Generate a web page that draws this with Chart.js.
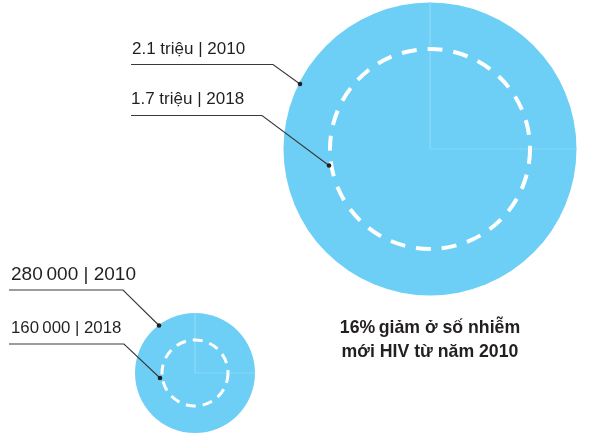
<!DOCTYPE html>
<html>
<head>
<meta charset="utf-8">
<script src="https://cdn.jsdelivr.net/npm/chart.js@4.4.1/dist/chart.umd.min.js"></script>
<style>
  body { margin: 0; background: #fff; }
  canvas { display: block; }
</style>
</head>
<body>
<canvas id="myChart" width="601" height="436"></canvas>
<script>
// donnees du graphique
const years = ["2010", "2018"];
const adultValues = [2100000, 1700000]; // grand cercle
const childValues = [280000, 160000]; // petit cercle
const noteLines = ["16%\u2009giảm ở số nhiễm", "mới HIV từ năm 2010"];

// mise en page (positions en pixels, axes 0..601 / 0..436)
const bigCircle = { x: 430, y: 149, outer: 146.5, inner: 100 };
const smallCircle = { x: 195, y: 373, outer: 60, inner: 33 };
// [texte x, texte y, debut ligne, y ligne, coude x, point x, point y, taille police]
const leaders = [
  [132, 54, 131, 64.5, 273, 300, 84, 17],
  [131, 104, 131, 115.5, 262, 329, 165.5, 17],
  [11, 280, 9, 290, 123, 159, 325.5, 19],
  [11, 332.5, 9, 344, 124, 160, 378, 16.8],
];

const blue = "#6dcff6";
const faint = "#85d7f7";
const ink = "#231f20";

function formatMillion(v) {
  return (v / 1000000).toFixed(1) + " triệu";
}
function formatThousand(v) {
  return String(v).replace(/\B(?=(\d{3})+(?!\d))/g, "\u2009");
}

const labelTexts = [
  formatMillion(adultValues[0]) + " | " + years[0],
  formatMillion(adultValues[1]) + " | " + years[1],
  formatThousand(childValues[0]) + " | " + years[0],
  formatThousand(childValues[1]) + " | " + years[1],
];

const datasets = [];

// cercles pleins
[bigCircle, smallCircle].forEach(function (c) {
  datasets.push({
    type: "bubble",
    data: [{ x: c.x, y: c.y, r: c.outer }],
    backgroundColor: blue,
    borderWidth: 0,
    clip: false,
    order: 4,
  });
  // lignes claires (quart de cercle)
  datasets.push({
    type: "line",
    data: [
      { x: c.x, y: c.y - c.outer },
      { x: c.x, y: c.y },
      { x: c.x + c.outer, y: c.y },
    ],
    borderColor: faint,
    borderWidth: 1,
    pointRadius: 0,
    clip: false,
    order: 3,
  });
});

// cercles en pointilles
datasets.push({
  type: "bubble",
  data: [{ x: bigCircle.x, y: bigCircle.y, r: bigCircle.inner }],
  backgroundColor: "rgba(0,0,0,0)",
  borderColor: "#ffffff",
  borderWidth: 4,
  dash: [15, 11],
  clip: false,
  order: 2,
});
datasets.push({
  type: "bubble",
  data: [{ x: smallCircle.x, y: smallCircle.y, r: smallCircle.inner }],
  backgroundColor: "rgba(0,0,0,0)",
  borderColor: "#ffffff",
  borderWidth: 3,
  dash: [10, 7],
  clip: false,
  order: 2,
});

// lignes de rappel
leaders.forEach(function (l) {
  datasets.push({
    type: "line",
    data: [
      { x: l[2], y: l[3] },
      { x: l[4], y: l[3] },
      { x: l[5], y: l[6] },
    ],
    borderColor: "#3a3a3a",
    borderWidth: 1.1,
    pointRadius: [0, 0, 2.3],
    pointBackgroundColor: ink,
    pointBorderWidth: 0,
    clip: false,
    order: 1,
  });
});

// plugin pour les pointilles des bulles
const dashPlugin = {
  id: "dashPlugin",
  beforeDatasetDraw(chart, args) {
    const ds = chart.data.datasets[args.index];
    if (ds.dash) chart.ctx.setLineDash(ds.dash);
  },
  afterDatasetDraw(chart) {
    chart.ctx.setLineDash([]);
  },
};

// plugin pour les textes
const textPlugin = {
  id: "textPlugin",
  afterDraw(chart) {
    const ctx = chart.ctx;
    const xs = chart.scales.x;
    const ys = chart.scales.y;
    ctx.save();
    ctx.fillStyle = ink;
    ctx.textBaseline = "alphabetic";
    ctx.textAlign = "left";
    leaders.forEach(function (l, i) {
      ctx.font = l[7] + 'px "Liberation Sans", Arial, sans-serif';
      ctx.fillText(labelTexts[i], xs.getPixelForValue(l[0]), ys.getPixelForValue(l[1]));
    });
    ctx.textAlign = "center";
    ctx.font = 'bold 17.7px "Liberation Sans", Arial, sans-serif';
    noteLines.forEach(function (t, i) {
      ctx.fillText(t, xs.getPixelForValue(430), ys.getPixelForValue(333 + i * 23.5));
    });
    ctx.restore();
  },
};

const config = {
  type: "bubble",
  data: { datasets: datasets },
  options: {
    responsive: false,
    animation: false,
    events: [],
    layout: { padding: 0, autoPadding: false },
    plugins: {
      legend: false,
      tooltip: { enabled: false },
    },
    scales: {
      x: { type: "linear", min: 0, max: 601, display: false },
      y: { type: "linear", min: 0, max: 436, reverse: true, display: false },
    },
  },
  plugins: [dashPlugin, textPlugin],
};

let context = document.getElementById("myChart").getContext("2d");
let chart = new Chart(context, config);
</script>
</body>
</html>
